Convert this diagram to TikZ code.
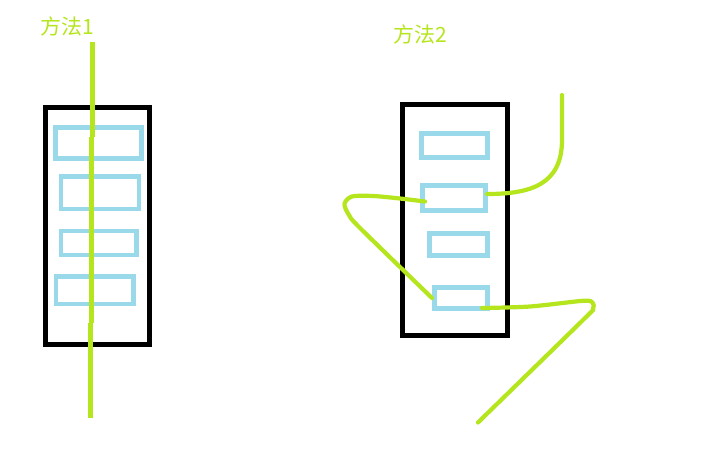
\documentclass[tikz,border=0pt]{standalone}
\usepackage{fontspec}
\newfontfamily\cjk{Noto Sans CJK SC}
\definecolor{lime}{RGB}{181,230,29}
\definecolor{turq}{RGB}{153,217,234}
\begin{document}
\begin{tikzpicture}[x=1pt,y=-1pt,
  frame/.style={draw=black,line width=4.5pt},
  cell/.style={draw=turq,line width=4.5pt},
  wire/.style={draw=lime,line width=4.5pt},
  curvy/.style={draw=lime,line width=4.2pt,line cap=round,line join=round},
  title/.style={text=lime,font=\cjk\fontsize{21}{25}\selectfont,inner sep=0pt}]
\useasboundingbox[fill=white] (0,0) rectangle (721,471);
% titles
\node[title] (t1) at (67.5,26) {方法1};
\node[title] (t2) at (420,34.5) {方法2};
% left group
\draw[frame] (45.5,107.5) rectangle (149.5,344.5);
\draw[cell] (55.7,127.5) rectangle (141.7,158.5);
\draw[cell] (60.8,176.5) rectangle (139.2,209.2);
\draw[cell] (60.8,230.8) rectangle (136.5,255.2);
\draw[cell] (55.8,276.5) rectangle (133.5,304.2);
\draw[wire] (92.4,42) -- (92.4,136.7);
\draw[wire] (91.6,136.7) -- (91.6,322.5);
\draw[wire] (90.3,322.5) -- (90.3,418);
% right group
\draw[frame] (402.3,104.6) rectangle (507.7,335.4);
\draw[cell] (421.7,133.4) rectangle (487.7,157.6);
\draw[cell] (422.4,185.7) rectangle (485.3,210.3);
\draw[cell] (429.4,233.4) rectangle (487.6,255.3);
\draw[cell] (434.4,287.4) rectangle (487.6,308.3);
\draw[curvy] (562,95) -- (562,140) .. controls (562,185) and (530,194) .. (487,194);
\draw[curvy] plot[smooth,tension=0.5] coordinates {(425,201.5) (400,198.5) (373,196) (352,196.5) (344.5,204) (349,215) (360,228) (432,298)};
\draw[curvy] plot[smooth,tension=0.5] coordinates {(482,308) (530,306.5) (583,300.8) (592.5,302.5) (593,309) (583,320) (478,422.5)};
\end{tikzpicture}
\end{document}
